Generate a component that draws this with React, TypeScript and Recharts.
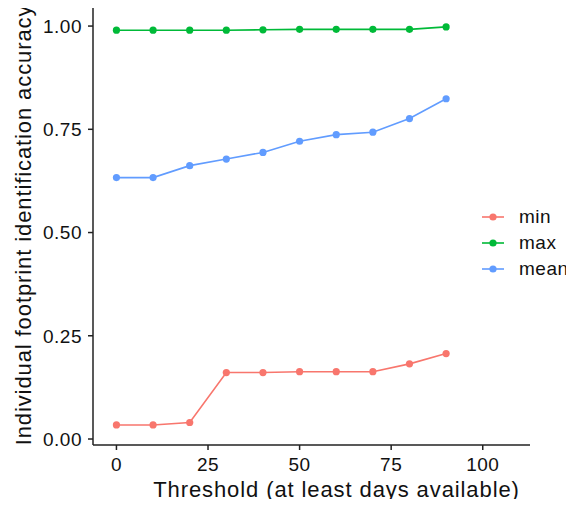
import { CartesianGrid, Line, LineChart, XAxis, YAxis } from "recharts";

const thresholds = [0, 10, 20, 30, 40, 50, 60, 70, 80, 90];
const minAcc = [0.034, 0.034, 0.04, 0.161, 0.161, 0.163, 0.163, 0.163, 0.182, 0.207];
const maxAcc = [0.99, 0.99, 0.99, 0.99, 0.991, 0.992, 0.992, 0.992, 0.992, 0.998];
const meanAcc = [0.633, 0.633, 0.662, 0.678, 0.694, 0.721, 0.737, 0.743, 0.776, 0.824];
const xTicks = [0, 25, 50, 75, 100];
const yTicks = [0, 0.25, 0.5, 0.75, 1];

const series = [
  { key: "min", color: "#F8766D" },
  { key: "max", color: "#00BA38" },
  { key: "mean", color: "#619CFF" },
];

const data = thresholds.map((t, i) => ({
  threshold: t,
  min: minAcc[i],
  max: maxAcc[i],
  mean: meanAcc[i],
}));

const FONT = "'Liberation Sans', Arial, Helvetica, sans-serif";
const AXIS = "#222";
const tickStyle = { fontSize: 19, fill: "#111", fontFamily: FONT, letterSpacing: 0.5 };
const titleStyle = { fontSize: 22, fill: "#111", fontFamily: FONT, letterSpacing: 0.9 };

export default function App() {
  return (
    <div style={{ position: "relative", margin: -8, width: 574, height: 507, background: "#fff", fontFamily: FONT }}>
      <LineChart width={574} height={507} data={data} margin={{ top: 5, right: 44, bottom: 0, left: 0 }}>
        <CartesianGrid stroke="none" />
        <XAxis
          type="number"
          dataKey="threshold"
          domain={[-6.4, 112.9]}
          ticks={xTicks}
          height={62}
          stroke={AXIS}
          strokeWidth={1.5}
          tickSize={5}
          tickMargin={8}
          tick={tickStyle}
          label={{
            value: "Threshold (at least days available)",
            position: "insideBottom",
            offset: 10,
            dx: 25,
            style: titleStyle,
          }}
        />
        <YAxis
          type="number"
          domain={[-0.0145, 1.051]}
          ticks={yTicks}
          width={93}
          stroke={AXIS}
          strokeWidth={1.5}
          tickSize={5}
          tickMargin={6}
          tickFormatter={(v: number) => v.toFixed(2)}
          tick={tickStyle}
          label={{
            value: "Individual footprint identification accuracy",
            angle: -90,
            position: "insideLeft",
            offset: 23,
            style: { ...titleStyle, textAnchor: "middle" },
          }}
        />
        {series.map((s) => (
          <Line
            key={s.key}
            type="linear"
            dataKey={s.key}
            stroke={s.color}
            strokeWidth={1.6}
            dot={{ r: 3.6, fill: s.color, stroke: s.color, strokeWidth: 0 }}
            activeDot={false}
            isAnimationActive={false}
          />
        ))}
      </LineChart>
      <div style={{ position: "absolute", left: 482, top: 204 }}>
        {series.map((s) => (
          <div key={s.key} style={{ display: "flex", alignItems: "center", height: 26 }}>
            <svg width={22} height={10}>
              <line x1={0} y1={5} x2={22} y2={5} stroke={s.color} strokeWidth={1.6} />
              <circle cx={11} cy={5} r={3.6} fill={s.color} />
            </svg>
            <span style={{ marginLeft: 15, fontSize: 19, letterSpacing: 0.5, color: "#111" }}>{s.key}</span>
          </div>
        ))}
      </div>
    </div>
  );
}
